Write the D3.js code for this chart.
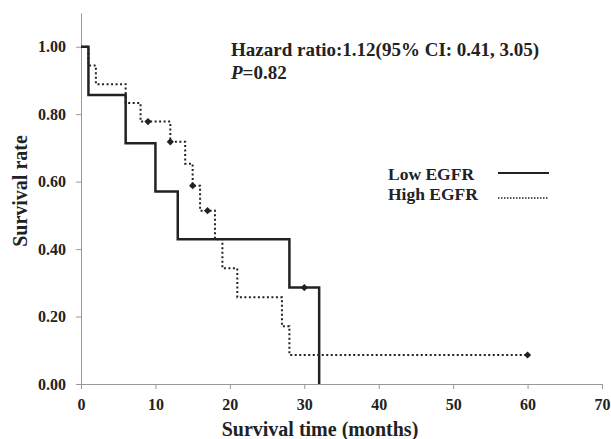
<!DOCTYPE html>
<html>
<head>
<meta charset="utf-8">
<script src="https://cdn.jsdelivr.net/npm/d3@7"></script>
<style>
  body { margin: 0; background: #fff; }
  text { font-family: "Liberation Serif", "Times New Roman", serif; font-weight: bold; fill: #222; }
</style>
</head>
<body>
<div id="chart"></div>
<script>
// Kaplan-Meier steps: [time, survival]
const lowSteps = [[0, 1], [1, 0.857], [6, 0.714], [10, 0.571], [13, 0.429], [28, 0.286], [32, 0]];
const lowCensor = [[30, 0.286]];
const highSteps = [[0, 1], [1, 0.944], [2, 0.889], [6, 0.833], [8, 0.778], [12, 0.718], [14, 0.653],
  [15, 0.588], [16, 0.514], [18, 0.429], [19, 0.343], [21, 0.257], [27, 0.171], [28, 0.086], [60, 0.086]];
const highCensor = [[9, 0.778], [12, 0.718], [15, 0.588], [17, 0.514], [60, 0.086]];
const xTicks = [0, 10, 20, 30, 40, 50, 60, 70];
const yTicks = [0, 0.2, 0.4, 0.6, 0.8, 1.0];
const legendNames = ["Low EGFR", "High EGFR"];

const width = 611;
const height = 439;
const marginTop = 13;
const marginRight = 9;
const marginBottom = 55;
const marginLeft = 81;

const x = d3.scaleLinear().domain([0, 70]).range([marginLeft, width - marginRight]);
const y = d3.scaleLinear().domain([0, 1.1]).range([height - marginBottom, marginTop]);

const svg = d3.select("#chart")
  .append("svg")
  .attr("width", width)
  .attr("height", height)
  .attr("viewBox", [0, 0, width, height]);

// x axis
const xa = svg.append("g")
  .attr("transform", `translate(0,${height - marginBottom})`)
  .call(d3.axisBottom(x).tickValues(xTicks).tickSize(5).tickSizeOuter(0).tickPadding(10));
xa.selectAll("text").attr("font-size", 16).attr("font-family", null);
xa.selectAll("line,path").attr("stroke", "#999");

// y axis
const ya = svg.append("g")
  .attr("transform", `translate(${marginLeft},0)`)
  .call(d3.axisLeft(y).tickValues(yTicks).tickFormat(d3.format(".2f")).tickSize(5).tickSizeOuter(0).tickPadding(10));
ya.selectAll("text").attr("font-size", 16).attr("font-family", null);
ya.selectAll("line,path").attr("stroke", "#999");

// axis titles
svg.append("text")
  .attr("x", 320)
  .attr("y", 436)
  .attr("text-anchor", "middle")
  .attr("font-size", 20)
  .text("Survival time (months)");

svg.append("text")
  .attr("transform", "translate(27,191) rotate(-90)")
  .attr("text-anchor", "middle")
  .attr("font-size", 20)
  .text("Survival rate");

// survival curves
const line = d3.line().x(d => x(d[0])).y(d => y(d[1])).curve(d3.curveStepAfter);

svg.append("path")
  .datum(highSteps)
  .attr("fill", "none")
  .attr("stroke", "#222")
  .attr("stroke-width", 2)
  .attr("stroke-dasharray", "2,2.5")
  .attr("d", line);

svg.append("path")
  .datum(lowSteps)
  .attr("fill", "none")
  .attr("stroke", "#222")
  .attr("stroke-width", 2.5)
  .attr("d", line);

// censor marks
const diamond = d3.symbol().type(d3.symbolSquare).size(26);
svg.append("g")
  .selectAll("path")
  .data(highCensor.concat(lowCensor))
  .join("path")
  .attr("transform", d => `translate(${x(d[0])},${y(d[1])}) rotate(45)`)
  .attr("fill", "#222")
  .attr("d", diamond);

// annotation
svg.append("text")
  .attr("x", 231)
  .attr("y", 56)
  .attr("font-size", 19)
  .text("Hazard ratio:1.12(95% CI: 0.41, 3.05)");

const p = svg.append("text")
  .attr("x", 231)
  .attr("y", 79)
  .attr("font-size", 19);
p.append("tspan").attr("font-style", "italic").text("P");
p.append("tspan").text("=0.82");

// legend
const lg = svg.append("g").selectAll("g").data(legendNames).join("g")
  .attr("transform", (d, i) => `translate(388,${180 + i * 20})`);
lg.append("text")
  .attr("font-size", 17.5)
  .text(d => d);
lg.append("line")
  .attr("x1", 110).attr("x2", 161)
  .attr("y1", (d, i) => i === 0 ? -7 : -2)
  .attr("y2", (d, i) => i === 0 ? -7 : -2)
  .attr("stroke", "#222")
  .attr("stroke-width", (d, i) => i === 0 ? 2 : 1.5)
  .attr("stroke-dasharray", (d, i) => i === 0 ? null : "1.5,1.5");
</script>
</body>
</html>
